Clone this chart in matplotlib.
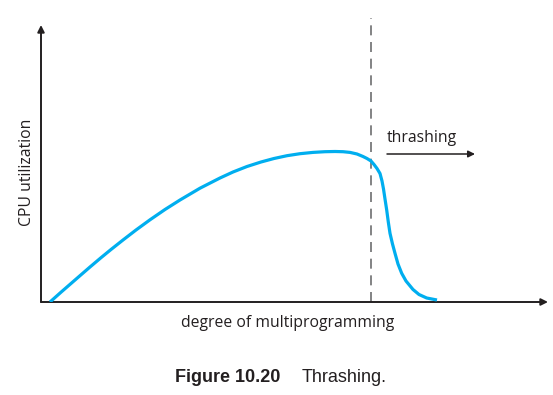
import matplotlib
matplotlib.use("Agg")
import matplotlib.pyplot as plt

# Curve (x: degree of multiprogramming, y: CPU utilization)
curve_x = [9, 20, 30, 40, 49, 60, 70, 82, 95, 109, 124, 139, 159, 179, 192, 206, 220, 233, 246, 259, 272, 284, 294, 302, 309, 316, 322, 326, 330, 333, 336, 339, 341, 342.5, 344, 345.7, 347.3, 349, 351.5, 354, 357, 360.7, 365, 372, 378, 385.7, 396]
curve_y = [0, 9.8, 18.5, 27.2, 35, 44.3, 52.5, 62, 72, 82.2, 92.5, 102, 113.8, 124, 130, 135.5, 140, 143.5, 146.3, 148.3, 149.6, 150.3, 150.5, 150.3, 149.6, 148, 145.5, 143.5, 141, 137.5, 133.5, 128.5, 121, 113, 103, 92, 80, 68.7, 58, 48.7, 38, 28.7, 21, 12.5, 7.5, 4, 2]
threshold_x = 330
x_label = "degree of multiprogramming"
y_label = "CPU utilization"
region_label = "thrashing"
caption_bold = "Figure 10.20"
caption_text = "Thrashing."

W, H = 553, 395
fig = plt.figure(figsize=(W / 100, H / 100), dpi=100)
ax = fig.add_axes([41 / W, 1 - 302 / H, (548 - 41) / W, (302 - 18) / H])
ax.set_xlim(0, 507)
ax.set_ylim(0, 284)
ax.axis("off")

axis_color = "#231f20"
# axes arrows
ax.annotate("", xy=(0, 277), xytext=(0, 0),
            arrowprops=dict(arrowstyle="-|>", color=axis_color, lw=1.4,
                            mutation_scale=10, shrinkA=0, shrinkB=0))
ax.annotate("", xy=(507, 0), xytext=(0, 0),
            arrowprops=dict(arrowstyle="-|>", color=axis_color, lw=1.4,
                            mutation_scale=10, shrinkA=0, shrinkB=0))

# dashed threshold
ax.plot([threshold_x, threshold_x], [0, 284], color="#6d6e70", lw=1.2,
        dashes=(6, 4), zorder=1)

# curve
ax.plot(curve_x, curve_y, color="#00aeef", lw=2.3, solid_capstyle="butt",
        solid_joinstyle="round", zorder=3)

# thrashing arrow and label
ax.annotate("", xy=(434, 148), xytext=(346, 148),
            arrowprops=dict(arrowstyle="-|>", color=axis_color, lw=1.1,
                            mutation_scale=10, shrinkA=0, shrinkB=0))
ax.text(346, 156, region_label, fontsize=11.3, family="Open Sans",
        color=axis_color, ha="left", va="bottom")

# axis labels
fig.text(27 / W, 1 - 172 / H, y_label, rotation=90, fontsize=11.3,
         family="Open Sans", color=axis_color, ha="center", va="center")
fig.text(288 / W, 1 - 323 / H, x_label, fontsize=11.3, family="Open Sans",
         color=axis_color, ha="center", va="center")

# caption
fig.text(175 / W, 1 - 378 / H, caption_bold, fontsize=13,
         family="Liberation Sans", weight="bold", color=axis_color,
         ha="left", va="center")
fig.text(302 / W, 1 - 378 / H, caption_text, fontsize=13,
         family="Liberation Sans", color=axis_color, ha="left", va="center")

fig.savefig("out.png", dpi=100)
